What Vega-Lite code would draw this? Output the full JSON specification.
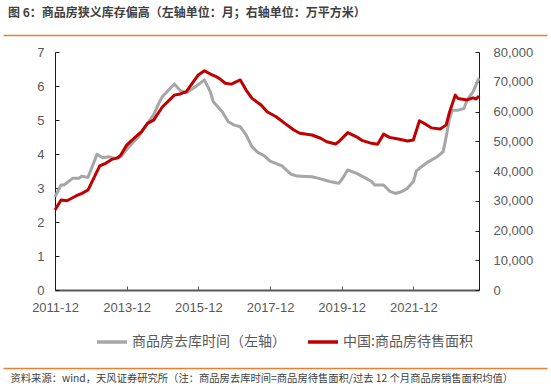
{
  "$schema": "https://vega.github.io/schema/vega-lite/v6.json",
  "width": 424,
  "height": 238,
  "autosize": "none",
  "padding": {"left": 55, "top": 52, "right": 72, "bottom": 99},
  "background": "white",
  "title": {
    "text": "图 6：商品房狭义库存偏高（左轴单位：月；右轴单位：万平方米）",
    "anchor": "start",
    "frame": "group",
    "dx": -47,
    "offset": 15,
    "font": "Noto Sans CJK SC",
    "fontSize": 12,
    "fontWeight": "bold",
    "color": "#404040"
  },
  "config": {
    "view": {"stroke": null},
    "axis": {
      "labelFont": "Liberation Sans",
      "labelFontSize": 13,
      "labelColor": "#595959",
      "grid": false,
      "domainColor": "#1a1a1a",
      "tickColor": "#1a1a1a",
      "title": null
    }
  },
  "datasets": {
    "gray": [
      {"d": "2011-12-01", "v": 2.74},
      {"d": "2012-02-01", "v": 3.09},
      {"d": "2012-03-01", "v": 3.09},
      {"d": "2012-06-01", "v": 3.29},
      {"d": "2012-08-01", "v": 3.29},
      {"d": "2012-09-01", "v": 3.35},
      {"d": "2012-11-01", "v": 3.31},
      {"d": "2013-02-01", "v": 3.99},
      {"d": "2013-04-01", "v": 3.89},
      {"d": "2013-06-01", "v": 3.92},
      {"d": "2013-08-01", "v": 3.87},
      {"d": "2013-10-01", "v": 3.92},
      {"d": "2014-01-01", "v": 4.24},
      {"d": "2014-04-01", "v": 4.51},
      {"d": "2014-07-01", "v": 4.90},
      {"d": "2014-09-01", "v": 5.15},
      {"d": "2014-11-01", "v": 5.54},
      {"d": "2014-12-01", "v": 5.69},
      {"d": "2015-04-01", "v": 6.06},
      {"d": "2015-06-01", "v": 5.86},
      {"d": "2015-08-01", "v": 5.80},
      {"d": "2015-11-01", "v": 5.98},
      {"d": "2016-02-01", "v": 6.18},
      {"d": "2016-04-01", "v": 5.83},
      {"d": "2016-05-01", "v": 5.54},
      {"d": "2016-08-01", "v": 5.24},
      {"d": "2016-10-01", "v": 4.95},
      {"d": "2016-12-01", "v": 4.85},
      {"d": "2017-02-01", "v": 4.80},
      {"d": "2017-04-01", "v": 4.56},
      {"d": "2017-06-01", "v": 4.21},
      {"d": "2017-08-01", "v": 4.04},
      {"d": "2017-10-01", "v": 3.95},
      {"d": "2017-12-01", "v": 3.79},
      {"d": "2018-04-01", "v": 3.65},
      {"d": "2018-07-01", "v": 3.41},
      {"d": "2018-09-01", "v": 3.35},
      {"d": "2019-02-01", "v": 3.33},
      {"d": "2019-04-01", "v": 3.29},
      {"d": "2019-08-01", "v": 3.19},
      {"d": "2019-11-01", "v": 3.14},
      {"d": "2019-12-01", "v": 3.24},
      {"d": "2020-02-01", "v": 3.53},
      {"d": "2020-05-01", "v": 3.43},
      {"d": "2020-08-01", "v": 3.29},
      {"d": "2020-10-01", "v": 3.19},
      {"d": "2020-11-01", "v": 3.09},
      {"d": "2021-02-01", "v": 3.09},
      {"d": "2021-04-01", "v": 2.91},
      {"d": "2021-06-01", "v": 2.84},
      {"d": "2021-08-01", "v": 2.89},
      {"d": "2021-10-01", "v": 2.99},
      {"d": "2021-12-01", "v": 3.19},
      {"d": "2022-01-01", "v": 3.50},
      {"d": "2022-02-01", "v": 3.58},
      {"d": "2022-05-01", "v": 3.77},
      {"d": "2022-08-01", "v": 3.92},
      {"d": "2022-10-01", "v": 4.07},
      {"d": "2022-11-01", "v": 4.51},
      {"d": "2022-12-01", "v": 5.00},
      {"d": "2023-01-01", "v": 5.29},
      {"d": "2023-03-01", "v": 5.29},
      {"d": "2023-05-01", "v": 5.34},
      {"d": "2023-06-01", "v": 5.59},
      {"d": "2023-08-01", "v": 5.83},
      {"d": "2023-10-01", "v": 6.23}
    ],
    "red": [
      {"d": "2011-12-01", "v": 26900},
      {"d": "2012-02-01", "v": 30250},
      {"d": "2012-04-01", "v": 30000},
      {"d": "2012-07-01", "v": 31600},
      {"d": "2012-09-01", "v": 32500},
      {"d": "2012-11-01", "v": 33600},
      {"d": "2013-03-01", "v": 41700},
      {"d": "2013-05-01", "v": 42600},
      {"d": "2013-07-01", "v": 43900},
      {"d": "2013-09-01", "v": 44400},
      {"d": "2013-10-01", "v": 45400},
      {"d": "2013-12-01", "v": 48700},
      {"d": "2014-03-01", "v": 51500},
      {"d": "2014-05-01", "v": 53200},
      {"d": "2014-07-01", "v": 56000},
      {"d": "2014-09-01", "v": 57100},
      {"d": "2014-12-01", "v": 61600},
      {"d": "2015-04-01", "v": 65500},
      {"d": "2015-06-01", "v": 65900},
      {"d": "2015-08-01", "v": 66650},
      {"d": "2015-10-01", "v": 69500},
      {"d": "2015-12-01", "v": 72300},
      {"d": "2016-02-01", "v": 73700},
      {"d": "2016-04-01", "v": 72600},
      {"d": "2016-06-01", "v": 71700},
      {"d": "2016-07-01", "v": 71150},
      {"d": "2016-09-01", "v": 69500},
      {"d": "2016-11-01", "v": 69200},
      {"d": "2017-02-01", "v": 70600},
      {"d": "2017-04-01", "v": 67200},
      {"d": "2017-06-01", "v": 64400},
      {"d": "2017-09-01", "v": 62200},
      {"d": "2017-11-01", "v": 59900},
      {"d": "2018-02-01", "v": 58250},
      {"d": "2018-05-01", "v": 56000},
      {"d": "2018-08-01", "v": 53800},
      {"d": "2018-10-01", "v": 52700},
      {"d": "2019-02-01", "v": 52100},
      {"d": "2019-05-01", "v": 51000},
      {"d": "2019-07-01", "v": 49850},
      {"d": "2019-10-01", "v": 49100},
      {"d": "2019-11-01", "v": 49850},
      {"d": "2020-02-01", "v": 52900},
      {"d": "2020-05-01", "v": 51500},
      {"d": "2020-07-01", "v": 50200},
      {"d": "2020-10-01", "v": 49300},
      {"d": "2020-12-01", "v": 49000},
      {"d": "2021-02-01", "v": 52400},
      {"d": "2021-04-01", "v": 51300},
      {"d": "2021-07-01", "v": 50750},
      {"d": "2021-10-01", "v": 50100},
      {"d": "2021-12-01", "v": 50400},
      {"d": "2022-02-01", "v": 56900},
      {"d": "2022-04-01", "v": 55800},
      {"d": "2022-06-01", "v": 54500},
      {"d": "2022-09-01", "v": 54100},
      {"d": "2022-11-01", "v": 55500},
      {"d": "2022-12-01", "v": 59400},
      {"d": "2023-02-01", "v": 65500},
      {"d": "2023-03-01", "v": 64400},
      {"d": "2023-06-01", "v": 63900},
      {"d": "2023-08-01", "v": 64600},
      {"d": "2023-09-01", "v": 64200},
      {"d": "2023-10-01", "v": 65200}
    ]
  },
  "layer": [
    {
      "layer": [
        {
          "data": {"name": "gray"},
          "mark": {"type": "line", "strokeWidth": 3, "strokeJoin": "round"},
          "encoding": {
            "x": {
              "field": "d",
              "type": "temporal",
              "scale": {
                "type": "utc",
                "domain": [
                  {"year": 2011, "month": 12, "date": 1, "utc": true},
                  {"year": 2023, "month": 10, "date": 1, "utc": true}
                ]
              },
              "axis": {
                "orient": "bottom",
                "values": [
                  {"year": 2011, "month": 12, "date": 1, "utc": true},
                  {"year": 2013, "month": 12, "date": 1, "utc": true},
                  {"year": 2015, "month": 12, "date": 1, "utc": true},
                  {"year": 2017, "month": 12, "date": 1, "utc": true},
                  {"year": 2019, "month": 12, "date": 1, "utc": true},
                  {"year": 2021, "month": 12, "date": 1, "utc": true}
                ],
                "format": "%Y-%m",
                "labelFlush": false,
                "labelOverlap": false,
                "tickSize": -4,
                "labelPadding": 15,
                "domainColor": "#595959",
                "domainWidth": 2,
                "tickColor": "#595959"
              }
            },
            "y": {
              "field": "v",
              "type": "quantitative",
              "scale": {"domain": [0, 7], "nice": false},
              "axis": {"orient": "left", "values": [0, 1, 2, 3, 4, 5, 6, 7], "format": "d", "tickSize": -4, "labelPadding": 15}
            },
            "color": {
              "datum": "商品房去库时间（左轴）",
              "type": "nominal",
              "scale": {
                "domain": ["商品房去库时间（左轴）", "中国:商品房待售面积"],
                "range": ["#A6A6A6", "#C00000"]
              },
              "legend": {
                "orient": "none",
                "legendX": 40,
                "legendY": 273,
                "direction": "horizontal",
                "title": null,
                "symbolType": "stroke",
                "symbolSize": 900,
                "symbolStrokeWidth": 3.5,
                "labelFont": "Noto Sans CJK SC",
                "labelFontSize": 14,
                "labelColor": "#595959",
                "labelOffset": 3,
                "columnPadding": 15,
                "padding": 0,
                "labelLimit": 300
              }
            }
          }
        },
        {
          "data": {"name": "red"},
          "mark": {"type": "line", "strokeWidth": 3, "strokeJoin": "round"},
          "encoding": {
            "x": {"field": "d", "type": "temporal"},
            "y": {
              "field": "v",
              "type": "quantitative",
              "scale": {"domain": [0, 80000], "nice": false},
              "axis": {"orient": "right", "values": [0, 10000, 20000, 30000, 40000, 50000, 60000, 70000, 80000], "format": ",d", "tickSize": -4, "labelPadding": 18}
            },
            "color": {"datum": "中国:商品房待售面积", "type": "nominal"}
          }
        }
      ],
      "resolve": {"scale": {"y": "independent"}}
    },
    {
      "data": {"values": []},
      "mark": "rule",
      "encoding": {
        "x": {
          "field": "t",
          "type": "quantitative",
          "scale": {"domain": [0, 1], "range": [-52, 492], "nice": false, "zero": false},
          "axis": {"orient": "top", "offset": 17, "domainColor": "#ED7D31", "domainWidth": 1.5, "ticks": false, "labels": false, "title": null}
        }
      }
    },
    {
      "data": {"values": []},
      "mark": "rule",
      "encoding": {
        "x": {
          "field": "t",
          "type": "quantitative",
          "scale": {"domain": [0, 1], "range": [-52, 492], "nice": false, "zero": false},
          "axis": {
            "orient": "bottom",
            "offset": 78,
            "domainColor": "#ED7D31",
            "domainWidth": 1.5,
            "ticks": false,
            "labels": false,
            "title": "资料来源：wind，天风证券研究所（注：商品房去库时间=商品房待售面积/过去 12 个月商品房销售面积均值）",
            "titleFont": "Noto Sans CJK SC",
            "titleFontSize": 10.3,
            "titleFontWeight": "normal",
            "titleColor": "#404040",
            "titleX": -45,
            "titleY": 5,
            "titleAlign": "left",
            "titleBaseline": "top"
          }
        }
      }
    }
  ],
  "resolve": {"scale": {"x": "independent"}}
}
